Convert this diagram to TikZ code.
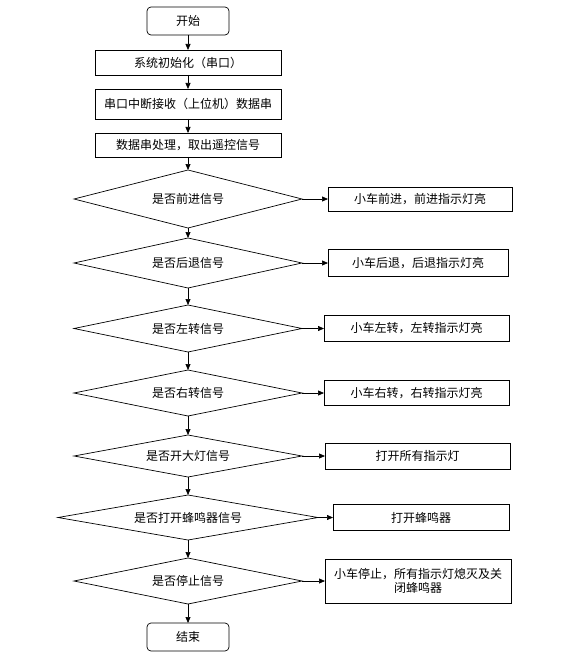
\documentclass[tikz,border=0pt]{standalone}
\usepackage{fontspec}
\setmainfont{Noto Sans CJK SC}
\usetikzlibrary{positioning, arrows.meta, shapes.geometric}

\begin{document}
\begin{tikzpicture}[x=1pt, y=1pt, font=\fontsize{12}{14.5}\selectfont, line width=0.7pt,
  >={Triangle[length=6pt,width=5pt]},
  every node/.style={outer sep=0pt},
  terminal/.style={draw, rectangle, rounded corners=4pt, minimum width=82pt, minimum height=28pt},
  box/.style={draw, rectangle, inner sep=0pt, minimum width=186pt},
  decision/.style={draw, diamond, aspect=4.5, inner sep=0pt, minimum width=228pt},
  action/.style={draw, rectangle, inner sep=0pt, minimum width=185pt}]
\useasboundingbox (0,0) rectangle (586,-663);
% main column
\node[terminal](Start) at (188,-21){开始};
\node[box, minimum height=25pt][below = 15pt of Start](Init){系统初始化（串口）};
\node[box, minimum height=30pt][below = 14pt of Init](Recv){串口中断接收（上位机）数据串};
\node[box, minimum height=24pt][below = 14pt of Recv](Parse){数据串处理，取出遥控信号};
\node[decision, minimum height=58pt][below = 13pt of Parse](Fwd){是否前进信号};
\node[decision, minimum height=50pt][below = 10pt of Fwd](Back){是否后退信号};
\node[decision, minimum height=47pt][below = 17pt of Back](Left){是否左转信号};
\node[decision, minimum height=46pt][below = 18pt of Left](Right){是否右转信号};
\node[decision, minimum height=42pt][below = 19pt of Right](Lamp){是否开大灯信号};
\node[decision, minimum height=45pt, minimum width=260pt][below = 18pt of Lamp](Buzz){是否打开蜂鸣器信号};
\node[decision, minimum height=46pt][below = 18pt of Buzz](Stop){是否停止信号};
\node[terminal][below = 19pt of Stop](End){结束};
% actions
\node[action, minimum height=24pt, minimum width=184pt][right = 26pt of Fwd](FwdOn){小车前进，前进指示灯亮};
\node[action, minimum height=27pt, minimum width=180pt][right = 26pt of Back](BackOn){小车后退，后退指示灯亮};
\node[action, minimum height=26pt][right = 22pt of Left](LeftOn){小车左转，左转指示灯亮};
\node[action, minimum height=25pt][right = 22pt of Right](RightOn){小车右转，右转指示灯亮};
\node[action, minimum height=26pt][right = 23pt of Lamp](LampOn){打开所有指示灯};
\node[action, minimum height=26pt, minimum width=176pt][right = 15pt of Buzz](BuzzOn){打开蜂鸣器};
\node[action, minimum height=44pt, minimum width=186pt, align=center][right = 23pt of Stop](StopOn){小车停止，所有指示灯熄灭及关\\闭蜂鸣器};
% connectors
\draw[->] (Start) -- (Init);
\draw[->] (Init) -- (Recv);
\draw[->] (Recv) -- (Parse);
\draw[->] (Parse) -- (Fwd);
\draw[->] (Fwd) -- (Back);
\draw[->] (Back) -- (Left);
\draw[->] (Left) -- (Right);
\draw[->] (Right) -- (Lamp);
\draw[->] (Lamp) -- (Buzz);
\draw[->] (Buzz) -- (Stop);
\draw[->] (Stop) -- (End);
\draw[->] (Fwd) -- (FwdOn);
\draw[->] (Back) -- (BackOn);
\draw[->] (Left) -- (LeftOn);
\draw[->] (Right) -- (RightOn);
\draw[->] (Lamp) -- (LampOn);
\draw[->] (Buzz) -- (BuzzOn);
\draw[->] (Stop) -- (StopOn);
\end{tikzpicture}
\end{document}
